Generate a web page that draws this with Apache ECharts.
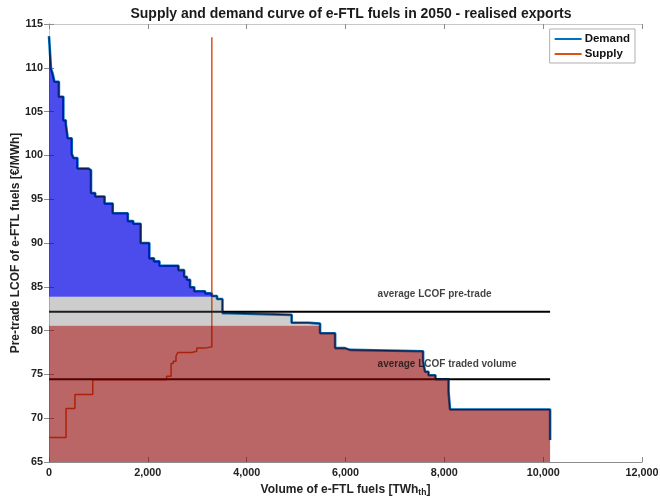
<!DOCTYPE html>
<html><head><meta charset="utf-8">
<script src="https://cdn.jsdelivr.net/npm/echarts@6/dist/echarts.min.js"></script>
<style>html,body{margin:0;padding:0;background:#fff}#c{width:660px;height:501px}</style>
</head><body><div id="c"></div>
<script>
// Demand step curve: segment start volume (TWh) and level (€/MWh)
const demandX = [0, 40, 70, 110, 200, 290, 340, 380, 460, 495, 575, 800, 850, 935, 1125, 1290, 1595, 1705, 1855, 2030, 2125, 2235, 2620, 2735, 2790, 2855, 2940, 3160, 3295, 3400, 3510, 3630, 4910, 5250, 5485, 5790, 5990, 6090, 7570, 7610, 7680, 7820, 8085, 8115, 10140];
const demandY = [113.6, 109.9, 109.4, 108.4, 106.7, 104.0, 103.6, 101.95, 100.2, 99.7, 98.5, 98.3, 95.7, 95.3, 94.5, 93.4, 92.5, 92.2, 90.0, 88.25, 87.9, 87.4, 86.9, 86.15, 85.8, 84.95, 84.5, 84.25, 83.95, 83.6, 82.0, 81.8, 80.9, 80.8, 79.7, 78.0, 77.8, 77.65, 76.5, 75.3, 74.9, 74.45, 73.0, 71.0, 67.5];
// Supply step curve
const supplyX = [0, 345, 525, 885, 2380, 2470, 2515, 2570, 2605, 2890, 2990, 3160, 3295];
const supplyY = [67.8, 71.1, 72.7, 74.4, 74.8, 76.25, 76.5, 77.1, 77.5, 77.65, 78.0, 78.15, 113.5];
// Reference levels
const avgPreTrade = 82.15;
const avgTraded = 74.45;
const avgLineEnd = 10140;
const greyBandTop = 83.85;
const redBandTop = 80.55;
// Annotations
const annoX = [6650, 6650];
const annoY = [84.15, 76.2];
const annoText = ['average LCOF pre-trade', 'average LCOF traded volume'];
// Axes
const xMin = 0, xMax = 12000, xStep = 2000;
const yMin = 65, yMax = 115, yStep = 5;

const FONT = 'Liberation Sans, Arial, sans-serif';
const pairs = (xs, ys) => xs.map((x, i) => [x, ys[i]]);
function band(lo, hi) {
  const out = [];
  for (let i = 0; i < demandX.length; i++) {
    const y = demandY[i];
    if (y <= lo) { out.push([demandX[i], lo]); break; }
    out.push([demandX[i], Math.min(y, hi)]);
  }
  return out;
}

const chart = echarts.init(document.getElementById('c'), null, {renderer: 'canvas'});
const axisCol = '#8c8c8c';
const areaBase = {type: 'line', step: 'end', showSymbol: false, silent: true, z: 3, lineStyle: {width: 0}};
chart.setOption({
  animation: false,
  backgroundColor: '#fff',
  title: {text: 'Supply and demand curve of e-FTL fuels in 2050 - realised exports', left: 346, textAlign: 'center', top: 2,
    textStyle: {fontFamily: FONT, fontSize: 14, fontWeight: 'bold', color: '#1a1a1a'}},
  legend: {data: ['Demand', 'Supply'], orient: 'vertical', right: 25, top: 29, backgroundColor: '#fff',
    borderColor: '#b0b0b0', borderWidth: 1, padding: [4, 5, 3, 5], itemGap: 3, itemWidth: 27, itemHeight: 2, icon: 'rect',
    textStyle: {fontFamily: FONT, fontSize: 11.5, fontWeight: 'bold', color: '#111', padding: [0, 0, 0, -2]}},
  grid: {left: 49, right: 18, top: 24, bottom: 39, outerBoundsMode: 'none', containLabel: false},
  xAxis: [{type: 'value', min: xMin, max: xMax, interval: xStep,
    name: '{a|Volume of e-FTL fuels [TWh}{s|th}{a|]}', nameLocation: 'middle', nameGap: 21,
    nameTextStyle: {rich: {a: {fontFamily: FONT, fontSize: 12, fontWeight: 'bold', color: '#222'},
      s: {fontFamily: FONT, fontSize: 8.5, fontWeight: 'bold', color: '#222', verticalAlign: 'bottom', padding: [5, 0, 0, 0]}}},
    axisLine: {show: true, lineStyle: {color: axisCol, width: 1}}, axisTick: {inside: true, length: 5, lineStyle: {color: axisCol}},
    axisLabel: {fontFamily: FONT, fontSize: 10.8, fontWeight: 'bold', color: '#222', margin: 6,
      formatter: v => v.toLocaleString('en-US')}, splitLine: {show: false}},
   {type: 'value', position: 'top', min: xMin, max: xMax, interval: xStep,
    axisLine: {show: true, lineStyle: {color: '#c8c8c8'}}, axisTick: {inside: true, length: 5, lineStyle: {color: axisCol}},
    axisLabel: {show: false}, splitLine: {show: false}}],
  yAxis: [{type: 'value', min: yMin, max: yMax, interval: yStep,
    name: 'Pre-trade LCOF of e-FTL fuels [€/MWh]', nameLocation: 'middle', nameGap: 27, nameMoveOverlap: false,
    nameTextStyle: {fontFamily: FONT, fontSize: 12, fontWeight: 'bold', color: '#222'},
    axisLine: {show: true, lineStyle: {color: axisCol, width: 1}}, axisTick: {inside: true, length: 5, lineStyle: {color: axisCol}},
    axisLabel: {fontFamily: FONT, fontSize: 10.8, fontWeight: 'bold', color: '#222', margin: 6}, splitLine: {show: false}},
   {type: 'value', position: 'right', min: yMin, max: yMax, interval: yStep,
    axisLine: {show: true, lineStyle: {color: '#c8c8c8'}}, axisTick: {inside: true, length: 5, lineStyle: {color: axisCol}},
    axisLabel: {show: false}, splitLine: {show: false}}],
  series: [
    {name: 'Demand', type: 'line', step: 'end', data: pairs(demandX, demandY), showSymbol: false, z: 2,
      color: '#0072BD', lineStyle: {color: '#0072BD', width: 2.6}},
    {name: 'Supply', type: 'line', step: 'end', data: pairs(supplyX, supplyY), showSymbol: false, z: 2,
      color: '#D95319', lineStyle: {color: '#D95319', width: 1.5}},
    {name: 'avgPre', type: 'line', data: [[0, avgPreTrade], [avgLineEnd, avgPreTrade]], showSymbol: false, silent: true, z: 2,
      lineStyle: {color: '#000', width: 2}},
    {name: 'avgTraded', type: 'line', data: [[0, avgTraded], [avgLineEnd, avgTraded]], showSymbol: false, silent: true, z: 2,
      lineStyle: {color: '#000', width: 2}},
    Object.assign({}, areaBase, {name: 'redArea', data: band(yMin, redBandTop), areaStyle: {origin: yMin, color: 'rgba(140,0,0,0.6)', opacity: 1}}),
    Object.assign({}, areaBase, {name: 'greyArea', data: band(redBandTop, greyBandTop), areaStyle: {origin: redBandTop, color: 'rgba(95,95,95,0.31)', opacity: 1}}),
    Object.assign({}, areaBase, {name: 'blueArea', data: band(greyBandTop, Infinity), areaStyle: {origin: greyBandTop, color: 'rgba(0,0,230,0.7)', opacity: 1}}),
    {name: 'demandEdge', type: 'line', step: 'end', data: pairs(demandX, demandY), showSymbol: false, silent: true, z: 4,
      lineStyle: {color: '#0c1f4a', width: 1}},
    {name: 'notes', type: 'scatter', symbolSize: 0, silent: true, z: 6,
      data: annoX.map((x, i) => ({value: [x, annoY[i]], name: annoText[i]})),
      label: {show: true, position: 'right', distance: 0, formatter: p => p.name,
        fontFamily: FONT, fontSize: 10, fontWeight: 'bold', color: '#111'}}
  ]
});
</script></body></html>
